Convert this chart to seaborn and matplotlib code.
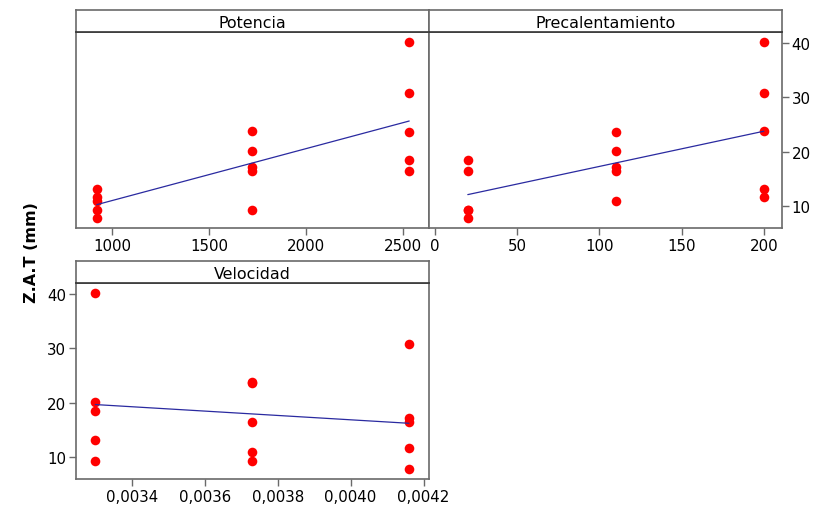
import matplotlib
matplotlib.use("Agg")
import matplotlib.pyplot as plt
from matplotlib.ticker import FuncFormatter, FixedLocator
import seaborn as sns
import pandas as pd

# Data (one row per run)
potencia = [2530, 2530, 1720, 2530, 1720, 2530, 1720, 2530, 1720, 920, 920, 920, 920, 1720, 920]
precalentamiento = [200, 200, 200, 110, 110, 20, 110, 20, 110, 200, 200, 110, 20, 20, 20]
velocidad = [0.00330, 0.00416, 0.00373, 0.00373, 0.00330, 0.00330, 0.00416, 0.00373, 0.00416,
             0.00330, 0.00416, 0.00373, 0.00330, 0.00373, 0.00416]
zat = [40.1, 30.8, 23.9, 23.7, 20.1, 18.5, 17.2, 16.5, 16.4, 13.1, 11.7, 10.9, 9.3, 9.3, 7.8]

panel_titles = ["Potencia", "Precalentamiento", "Velocidad"]
y_label = "Z.A.T (mm)"
y_ticks = [10, 20, 30, 40]
x_ticks_potencia = [1000, 1500, 2000, 2500]
x_ticks_precal = [0, 50, 100, 150, 200]
x_ticks_vel = [0.0034, 0.0036, 0.0038, 0.0040, 0.0042]

df = pd.DataFrame({"Potencia": potencia, "Precalentamiento": precalentamiento,
                   "Velocidad": velocidad, "ZAT": zat})

sns.set_theme(style="white")
plt.rcParams["font.family"] = ["DejaVu Sans"]

W, H = 818, 506
fig = plt.figure(figsize=(W / 100, H / 100), dpi=100)

def frac(x0, y0, x1, y1):
    return [x0 / W, 1 - y1 / H, (x1 - x0) / W, (y1 - y0) / H]

frame_col = "#6a6a6a"
panels = [
    ("Potencia", (76, 33, 429, 229), (813, 2632), x_ticks_potencia, None, "none"),
    ("Precalentamiento", (429, 33, 782, 229), (-3.6, 211.1), x_ticks_precal, None, "right"),
    ("Velocidad", (76, 284, 429, 480), (0.003247, 0.004215), x_ticks_vel,
     FuncFormatter(lambda v, p: f"{v:.4f}".replace(".", ",")), "left"),
]

for title, (x0, y0, x1, y1), xlim, xt, fmt, yside in panels:
    ax = fig.add_axes(frac(x0, y0, x1, y1))
    sns.regplot(data=df, x=title, y="ZAT", ax=ax, ci=None, truncate=True,
                scatter_kws=dict(color="#ff0000", s=48, alpha=1, linewidths=0),
                line_kws=dict(color="#2a2aa0", lw=0.9))
    ax.set_xlim(*xlim)
    ax.set_ylim(6.0, 42.0)
    ax.set_xlabel("")
    ax.set_ylabel("")
    ax.xaxis.set_major_locator(FixedLocator(xt))
    if fmt is not None:
        ax.xaxis.set_major_formatter(fmt)
    ax.set_yticks(y_ticks)
    if yside == "none":
        ax.tick_params(axis="y", left=False, labelleft=False)
    elif yside == "right":
        ax.yaxis.tick_right()
        ax.tick_params(axis="y", right=True, labelright=True, left=False, labelleft=False)
    else:
        ax.tick_params(axis="y", left=True, labelleft=True)
    ax.tick_params(axis="both", direction="out", length=5, width=1, color=frame_col,
                   labelsize=10.8, labelcolor="black", pad=2)
    ax.tick_params(axis="x", bottom=True)
    for s in ax.spines.values():
        s.set_color(frame_col)
        s.set_linewidth(1.2)
        s.set_visible(True)
    # strip header
    sax = fig.add_axes(frac(x0, y0 - 22, x1, y0))
    sax.set_xticks([])
    sax.set_yticks([])
    sax.set_facecolor("white")
    for side, s in sax.spines.items():
        s.set_color("#333333" if side == "bottom" else frame_col)
        s.set_linewidth(1.2)
    sax.text(0.5, 0.45, title, ha="center", va="center", fontsize=11.4,
             transform=sax.transAxes, color="black")

fig.text(32 / W, 0.5, y_label, rotation=90, ha="center", va="center",
         fontsize=11.5, fontweight="bold", color="black")

fig.savefig("out.png", dpi=100, facecolor="white")
